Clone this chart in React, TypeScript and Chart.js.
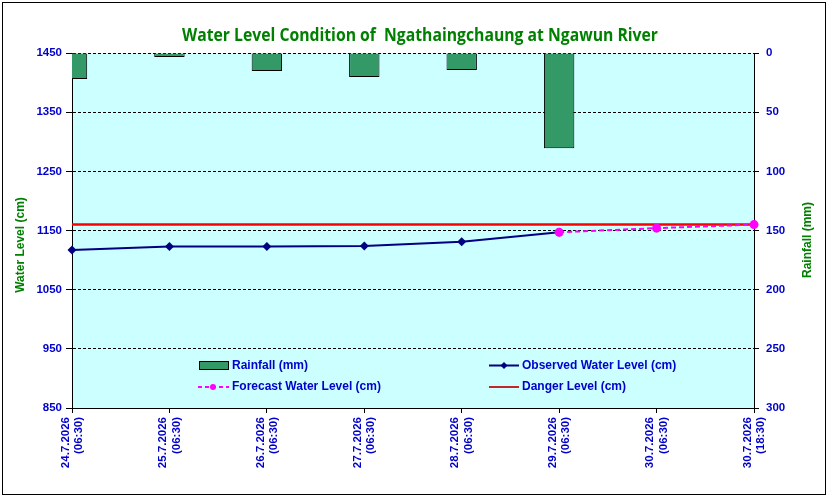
import React, { useEffect, useRef } from 'react';
import { Chart, registerables } from 'chart.js';

Chart.register(...registerables);

const dates = ['24.7.2026', '25.7.2026', '26.7.2026', '27.7.2026', '28.7.2026', '29.7.2026', '30.7.2026', '30.7.2026'];
const times = ['(06:30)', '(06:30)', '(06:30)', '(06:30)', '(06:30)', '(06:30)', '(06:30)', '(18:30)'];
const rainfall = [22, 3.4, 15.3, 20.3, 14.4, 80.5, null, null];
const observed = [1117, 1123, 1123, 1124, 1131, 1147, null, null];
const forecast = [null, null, null, null, null, 1147, 1154, 1160];
const danger = [1160, 1160, 1160, 1160, 1160, 1160, 1160, 1160];

const TITLE = 'Water Level Condition of  Ngathaingchaung at Ngawun River';
const LEFT_TITLE = 'Water Level (cm)';
const RIGHT_TITLE = 'Rainfall (mm)';
const LEGEND_RAIN = 'Rainfall (mm)';
const LEGEND_OBS = 'Observed Water Level (cm)';
const LEGEND_FC = 'Forecast Water Level (cm)';
const LEGEND_DANGER = 'Danger Level (cm)';

const BLUE = '#0000cc';
const GREEN = '#008000';
const BAR = '#339966';
const NAVY = '#000080';
const MAGENTA = '#ff00ff';
const RED = '#ff0000';

const tickFont = { family: '"Liberation Sans", Arial, sans-serif', size: 11.5, weight: 'bold' as const };

const decorPlugin = {
  id: 'decor',
  beforeDraw(chart: any) {
    const { ctx, chartArea } = chart;
    ctx.save();
    ctx.fillStyle = '#ffffff';
    ctx.fillRect(0, 0, chart.width, chart.height);
    ctx.fillStyle = '#ccffff';
    ctx.fillRect(chartArea.left, chartArea.top, chartArea.right - chartArea.left, chartArea.bottom - chartArea.top);
    ctx.restore();
  },
  afterDraw(chart: any) {
    const { ctx, scales } = chart;
    ctx.save();
    // title (horizontally condensed to the reference width)
    ctx.fillStyle = GREEN;
    ctx.font = 'bold 18px "Open Sans", sans-serif';
    ctx.textAlign = 'center';
    ctx.textBaseline = 'alphabetic';
    const tw = ctx.measureText(TITLE).width;
    const sx = 476 / tw;
    ctx.save();
    ctx.translate(420, 41);
    ctx.scale(sx, 1);
    ctx.fillText(TITLE, 0, 0);
    ctx.restore();
    ctx.textBaseline = 'middle';

    // axis titles
    ctx.font = 'bold 12px "Liberation Sans", Arial, sans-serif';
    ctx.save();
    ctx.translate(21, 245);
    ctx.rotate(-Math.PI / 2);
    ctx.fillText(LEFT_TITLE, 0, 0);
    ctx.restore();
    ctx.save();
    ctx.translate(808, 240);
    ctx.rotate(-Math.PI / 2);
    ctx.fillText(RIGHT_TITLE, 0, 0);
    ctx.restore();

    // x-axis category labels (two lines, rotated)
    const xs = scales.x;
    ctx.fillStyle = BLUE;
    ctx.font = `bold ${tickFont.size}px ${tickFont.family}`;
    ctx.textAlign = 'right';
    ctx.textBaseline = 'middle';
    for (let i = 0; i < dates.length; i++) {
      const px = xs.getPixelForTick(i);
      ctx.save();
      ctx.translate(px, xs.top + 9);
      ctx.rotate(-Math.PI / 2);
      ctx.fillText(dates[i], 0, -6.5);
      ctx.fillText(times[i], 0, 7);
      ctx.restore();
    }

    // legend
    ctx.font = 'bold 12px "Liberation Sans", Arial, sans-serif';
    ctx.fillStyle = BLUE;
    ctx.textAlign = 'left';
    ctx.textBaseline = 'middle';
    const r1 = 365.5;
    const r2 = 387;
    // rainfall
    ctx.fillStyle = BAR;
    ctx.fillRect(199.5, 361.5, 29, 8);
    ctx.strokeStyle = '#000';
    ctx.lineWidth = 1;
    ctx.strokeRect(199.5, 361.5, 29, 8);
    ctx.fillStyle = BLUE;
    ctx.fillText(LEGEND_RAIN, 232, r1);
    // observed
    ctx.strokeStyle = NAVY;
    ctx.lineWidth = 2;
    ctx.beginPath();
    ctx.moveTo(489, r1);
    ctx.lineTo(519, r1);
    ctx.stroke();
    ctx.fillStyle = NAVY;
    ctx.beginPath();
    ctx.moveTo(504, r1 - 3.5);
    ctx.lineTo(507.5, r1);
    ctx.lineTo(504, r1 + 3.5);
    ctx.lineTo(500.5, r1);
    ctx.closePath();
    ctx.fill();
    ctx.fillStyle = BLUE;
    ctx.fillText(LEGEND_OBS, 522, r1);
    // forecast
    ctx.strokeStyle = MAGENTA;
    ctx.lineWidth = 2;
    ctx.setLineDash([4, 3]);
    ctx.beginPath();
    ctx.moveTo(198, r2);
    ctx.lineTo(229, r2);
    ctx.stroke();
    ctx.setLineDash([]);
    ctx.fillStyle = MAGENTA;
    ctx.beginPath();
    ctx.arc(213, r2, 3, 0, Math.PI * 2);
    ctx.fill();
    ctx.fillStyle = BLUE;
    ctx.fillText(LEGEND_FC, 232, r2);
    // danger
    ctx.strokeStyle = '#c0282a';
    ctx.lineWidth = 2;
    ctx.beginPath();
    ctx.moveTo(489, r2);
    ctx.lineTo(519, r2);
    ctx.stroke();
    ctx.fillStyle = BLUE;
    ctx.fillText(LEGEND_DANGER, 522, r2);

    // outer border
    ctx.strokeStyle = '#000';
    ctx.lineWidth = 1;
    ctx.strokeRect(2.5, 2.5, 823, 492);
    ctx.restore();
  },
};

export default function App() {
  const ref = useRef<HTMLCanvasElement>(null);

  useEffect(() => {
    document.body.style.margin = '0';
    const canvas = ref.current!;
    const labels = dates.map((d, i) => `${d} ${times[i]}`);
    const chart = new Chart(canvas, {
      type: 'bar',
      data: {
        labels,
        datasets: [
          {
            type: 'line',
            label: LEGEND_FC,
            data: forecast,
            yAxisID: 'y',
            borderColor: MAGENTA,
            backgroundColor: MAGENTA,
            borderWidth: 2,
            borderDash: [5, 3],
            pointStyle: 'circle',
            pointRadius: 4.5,
            pointBorderWidth: 0,
            spanGaps: false,
            clip: false,
            order: 0,
          } as any,
          {
            type: 'line',
            label: LEGEND_OBS,
            data: observed,
            yAxisID: 'y',
            borderColor: NAVY,
            backgroundColor: NAVY,
            borderWidth: 2,
            pointStyle: 'rectRot',
            pointRadius: 4.5,
            pointBorderWidth: 0,
            clip: false,
            order: 1,
          } as any,
          {
            type: 'line',
            label: LEGEND_DANGER,
            data: danger,
            yAxisID: 'y',
            borderColor: RED,
            borderWidth: 2.5,
            pointRadius: 0,
            order: 2,
          } as any,
          {
            type: 'bar',
            label: LEGEND_RAIN,
            data: rainfall,
            yAxisID: 'y1',
            backgroundColor: BAR,
            borderColor: '#000',
            borderWidth: 1,
            barPercentage: 0.312,
            categoryPercentage: 1,
            order: 3,
          } as any,
        ],
      },
      options: {
        animation: false,
        responsive: false,
        maintainAspectRatio: false,
        layout: { padding: { top: 53, left: 0, right: 0, bottom: 0 } },
        plugins: {
          legend: { display: false },
          title: { display: false },
          tooltip: { enabled: false },
        },
        scales: {
          x: {
            type: 'category',
            offset: false,
            grid: { display: true, offset: false, drawOnChartArea: false, drawTicks: true, tickLength: 5, color: '#000' },
            border: { display: true, color: '#000', width: 1 },
            ticks: { display: false, autoSkip: false },
            afterFit: (s: any) => {
              s.height = 92;
            },
          },
          y: {
            position: 'left',
            min: 850,
            max: 1450,
            ticks: { stepSize: 100, color: BLUE, font: tickFont, padding: 4, callback: (v: any) => String(v) },
            grid: { color: '#000', lineWidth: 1, tickLength: 6, drawOnChartArea: true },
            border: { display: true, color: '#000', width: 1, dash: [3, 2] },
            afterFit: (s: any) => {
              s.width = 72;
            },
          },
          y1: {
            position: 'right',
            reverse: true,
            min: 0,
            max: 300,
            ticks: { stepSize: 50, color: BLUE, font: tickFont, padding: 7, callback: (v: any) => String(v) },
            grid: { color: '#000', drawOnChartArea: false, tickLength: 5 },
            border: { display: true, color: '#000', width: 1 },
            afterFit: (s: any) => {
              s.width = 77;
            },
          },
        },
      } as any,
      plugins: [decorPlugin],
    });
    return () => chart.destroy();
  }, []);

  return (
    <div style={{ position: 'fixed', left: 0, top: 0, width: 831, height: 500 }}>
      <canvas ref={ref} width={831} height={500} style={{ width: 831, height: 500, display: 'block' }} />
    </div>
  );
}
